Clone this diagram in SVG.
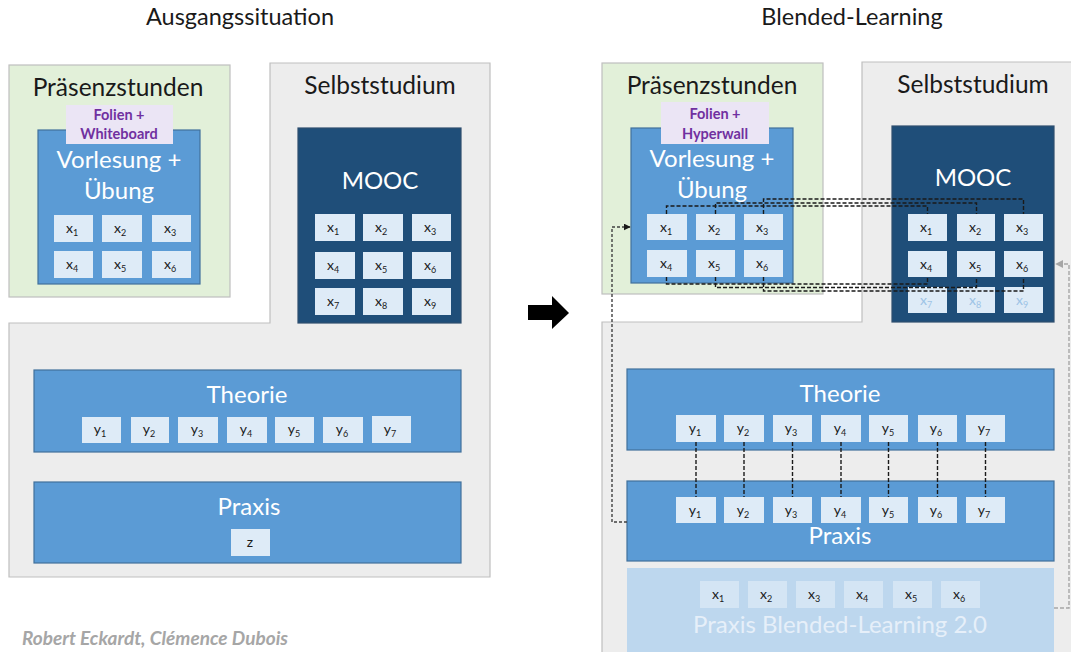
<svg xmlns="http://www.w3.org/2000/svg" width="1071" height="652" viewBox="0 0 1071 652">
<defs>
<style>
text{font-family:Lato,"Noto Sans","Liberation Sans",sans-serif}
.title{font-size:23.5px;fill:#1a1a1a;text-anchor:middle}
.head{font-size:24.5px;fill:#1a1a1a;text-anchor:middle}
.green{fill:#e2f0d9;stroke:#bfbfbf;stroke-width:1.2}
.gray{fill:#ededed;stroke:#bfbfbf;stroke-width:1.2}
.blue{fill:#5b9bd5;stroke:#41719c;stroke-width:1.2}
.dark{fill:#1f4e79;stroke:#2f4f6f;stroke-width:1.2}
.wt{font-size:24px;fill:#ffffff;text-anchor:middle}
.lav{fill:#ebe5f5}
.pt{font-size:14.5px;font-weight:bold;fill:#7030a0;text-anchor:middle}
.xb{fill:#deebf7}
.xt{font-size:14px;fill:#1a1a1a;text-anchor:middle}
.xtf{font-size:14px;fill:#9dc3e6;text-anchor:middle}
.pbl{fill:#bdd7ee}
.dash{fill:none;stroke:#1a1a1a;stroke-width:1.4;stroke-dasharray:4 2}
.dash2{fill:none;stroke:#404040;stroke-width:1.4;stroke-dasharray:3 2}
.dashg{fill:none;stroke:#a6a6a6;stroke-width:1.4;stroke-dasharray:4 2}
</style>
<marker id="ah" viewBox="0 0 10 10" refX="9" refY="5" markerWidth="7" markerHeight="7" orient="auto" markerUnits="userSpaceOnUse"><path d="M0,0 L10,5 L0,10 z" fill="#1a1a1a"/></marker>
<marker id="ahg" viewBox="0 0 10 10" refX="9" refY="5" markerWidth="8" markerHeight="8" orient="auto" markerUnits="userSpaceOnUse"><path d="M0,0 L10,5 L0,10 z" fill="#a6a6a6"/></marker>
</defs>
<rect width="1071" height="652" fill="#ffffff"/>

<!-- Titles -->
<text class="title" x="240" y="25">Ausgangssituation</text>
<text class="title" x="852" y="25">Blended-Learning</text>

<!-- ===== LEFT ===== -->
<g id="left-selbststudium">
<polygon class="gray" points="270,63 490,63 490,577 9,577 9,323 270,323"/>
<text class="head" x="380" y="94">Selbststudium</text>
</g>
<g id="left-praesenz">
<rect class="green" x="9" y="65" width="221" height="232"/>
<text class="head" x="118" y="96">Präsenzstunden</text>
</g>
<g id="left-vorlesung">
<rect class="blue" x="38" y="130" width="162" height="154"/>
<text class="wt" x="119" y="168">Vorlesung +</text>
<text class="wt" x="119" y="199">Übung</text>
<rect class="xb" x="54" y="215" width="39" height="27"/><text class="xt" x="72" y="233">x<tspan font-size="9" dy="3">1</tspan></text>
<rect class="xb" x="102" y="215" width="40" height="27"/><text class="xt" x="120" y="233">x<tspan font-size="9" dy="3">2</tspan></text>
<rect class="xb" x="152" y="215" width="39" height="27"/><text class="xt" x="170" y="233">x<tspan font-size="9" dy="3">3</tspan></text>
<rect class="xb" x="54" y="251" width="39" height="27"/><text class="xt" x="72" y="269">x<tspan font-size="9" dy="3">4</tspan></text>
<rect class="xb" x="102" y="251" width="40" height="27"/><text class="xt" x="120" y="269">x<tspan font-size="9" dy="3">5</tspan></text>
<rect class="xb" x="152" y="251" width="39" height="27"/><text class="xt" x="170" y="269">x<tspan font-size="9" dy="3">6</tspan></text>
</g>
<g id="left-folien">
<rect class="lav" x="66" y="105" width="107" height="39"/>
<text class="pt" x="119" y="120">Folien +</text>
<text class="pt" x="119" y="139">Whiteboard</text>
</g>
<g id="left-mooc">
<rect class="dark" x="298" y="128" width="163" height="195"/>
<text class="wt" x="380" y="189">MOOC</text>
<rect class="xb" x="315" y="214" width="40" height="27"/><text class="xt" x="333" y="232">x<tspan font-size="9" dy="3">1</tspan></text>
<rect class="xb" x="363" y="214" width="40" height="27"/><text class="xt" x="381" y="232">x<tspan font-size="9" dy="3">2</tspan></text>
<rect class="xb" x="412" y="214" width="39" height="27"/><text class="xt" x="430" y="232">x<tspan font-size="9" dy="3">3</tspan></text>
<rect class="xb" x="315" y="252" width="40" height="27"/><text class="xt" x="333" y="270">x<tspan font-size="9" dy="3">4</tspan></text>
<rect class="xb" x="363" y="252" width="40" height="27"/><text class="xt" x="381" y="270">x<tspan font-size="9" dy="3">5</tspan></text>
<rect class="xb" x="412" y="252" width="39" height="27"/><text class="xt" x="430" y="270">x<tspan font-size="9" dy="3">6</tspan></text>
<rect class="xb" x="315" y="288" width="40" height="27"/><text class="xt" x="333" y="306">x<tspan font-size="9" dy="3">7</tspan></text>
<rect class="xb" x="363" y="288" width="40" height="27"/><text class="xt" x="381" y="306">x<tspan font-size="9" dy="3">8</tspan></text>
<rect class="xb" x="412" y="288" width="39" height="27"/><text class="xt" x="430" y="306">x<tspan font-size="9" dy="3">9</tspan></text>
</g>
<g id="left-theorie">
<rect class="blue" x="34" y="370" width="427" height="82"/>
<text class="wt" x="247" y="403" font-size="22">Theorie</text>
<rect class="xb" x="82" y="417" width="39" height="26"/><text class="xt" x="100" y="434">y<tspan font-size="9" dy="3">1</tspan></text>
<rect class="xb" x="131" y="417" width="38" height="26"/><text class="xt" x="149" y="434">y<tspan font-size="9" dy="3">2</tspan></text>
<rect class="xb" x="178" y="417" width="40" height="26"/><text class="xt" x="197" y="434">y<tspan font-size="9" dy="3">3</tspan></text>
<rect class="xb" x="227" y="417" width="40" height="26"/><text class="xt" x="246" y="434">y<tspan font-size="9" dy="3">4</tspan></text>
<rect class="xb" x="275" y="417" width="39" height="26"/><text class="xt" x="294" y="434">y<tspan font-size="9" dy="3">5</tspan></text>
<rect class="xb" x="323" y="417" width="40" height="26"/><text class="xt" x="342" y="434">y<tspan font-size="9" dy="3">6</tspan></text>
<rect class="xb" x="372" y="416" width="39" height="27"/><text class="xt" x="390" y="434">y<tspan font-size="9" dy="3">7</tspan></text>
</g>
<g id="left-praxis">
<rect class="blue" x="34" y="482" width="427" height="81"/>
<text class="wt" x="249" y="515" font-size="22">Praxis</text>
<rect class="xb" x="231" y="529" width="39" height="27"/><text class="xt" x="250" y="547">z</text>
</g>

<text x="22" y="645" font-size="19" font-style="italic" font-weight="bold" fill="#a6a6a6">Robert Eckardt, Clémence Dubois</text>

<!-- Arrow -->
<g id="transition-arrow">
<polygon points="528,305 552,305 552,296 569,313 552,329 552,320 528,320" fill="#000000"/>
</g>

<!-- ===== RIGHT ===== -->
<g id="right-selbststudium">
<polygon class="gray" points="862,62 1080,62 1080,660 602,660 602,322 862,322"/>
<text class="head" x="973" y="93">Selbststudium</text>
</g>
<g id="right-praesenz">
<rect class="green" x="602" y="63" width="221" height="231"/>
<text class="head" x="712" y="94">Präsenzstunden</text>
</g>
<g id="right-vorlesung">
<rect class="blue" x="631" y="128" width="162" height="155"/>
<text class="wt" x="712" y="167">Vorlesung +</text>
<text class="wt" x="712" y="198">Übung</text>
<rect class="xb" x="647" y="214" width="40" height="26"/><text class="xt" x="666" y="232">x<tspan font-size="9" dy="3">1</tspan></text>
<rect class="xb" x="696" y="214" width="39" height="26"/><text class="xt" x="714" y="232">x<tspan font-size="9" dy="3">2</tspan></text>
<rect class="xb" x="744" y="214" width="39" height="26"/><text class="xt" x="762" y="232">x<tspan font-size="9" dy="3">3</tspan></text>
<rect class="xb" x="647" y="250" width="40" height="27"/><text class="xt" x="666" y="268">x<tspan font-size="9" dy="3">4</tspan></text>
<rect class="xb" x="696" y="250" width="39" height="27"/><text class="xt" x="714" y="268">x<tspan font-size="9" dy="3">5</tspan></text>
<rect class="xb" x="744" y="250" width="39" height="27"/><text class="xt" x="762" y="268">x<tspan font-size="9" dy="3">6</tspan></text>
</g>
<g id="right-folien">
<rect class="lav" x="661" y="102" width="108" height="42"/>
<text class="pt" x="715" y="119">Folien +</text>
<text class="pt" x="715" y="139">Hyperwall</text>
</g>
<g id="right-mooc">
<rect class="dark" x="892" y="126" width="162" height="196"/>
<text class="wt" x="973" y="186">MOOC</text>
<rect class="xb" x="908" y="214" width="39" height="27"/><text class="xt" x="926" y="232">x<tspan font-size="9" dy="3">1</tspan></text>
<rect class="xb" x="957" y="214" width="38" height="27"/><text class="xt" x="975" y="232">x<tspan font-size="9" dy="3">2</tspan></text>
<rect class="xb" x="1004" y="214" width="39" height="27"/><text class="xt" x="1022" y="232">x<tspan font-size="9" dy="3">3</tspan></text>
<rect class="xb" x="908" y="251" width="39" height="26"/><text class="xt" x="926" y="269">x<tspan font-size="9" dy="3">4</tspan></text>
<rect class="xb" x="957" y="251" width="38" height="26"/><text class="xt" x="975" y="269">x<tspan font-size="9" dy="3">5</tspan></text>
<rect class="xb" x="1004" y="251" width="39" height="26"/><text class="xt" x="1022" y="269">x<tspan font-size="9" dy="3">6</tspan></text>
<rect class="xb" x="908" y="287" width="39" height="26"/><text class="xtf" x="926" y="305">x<tspan font-size="9" dy="3">7</tspan></text>
<rect class="xb" x="957" y="287" width="38" height="26"/><text class="xtf" x="975" y="305">x<tspan font-size="9" dy="3">8</tspan></text>
<rect class="xb" x="1004" y="287" width="39" height="26"/><text class="xtf" x="1022" y="305">x<tspan font-size="9" dy="3">9</tspan></text>
</g>
<g id="right-theorie">
<rect class="blue" x="627" y="369" width="427" height="81"/>
<text class="wt" x="840" y="402" font-size="22">Theorie</text>
<rect class="xb" x="676" y="415" width="40" height="27"/><text class="xt" x="695" y="433">y<tspan font-size="9" dy="3">1</tspan></text>
<rect class="xb" x="724" y="415" width="40" height="27"/><text class="xt" x="743" y="433">y<tspan font-size="9" dy="3">2</tspan></text>
<rect class="xb" x="773" y="415" width="39" height="27"/><text class="xt" x="791" y="433">y<tspan font-size="9" dy="3">3</tspan></text>
<rect class="xb" x="821" y="415" width="40" height="27"/><text class="xt" x="840" y="433">y<tspan font-size="9" dy="3">4</tspan></text>
<rect class="xb" x="869" y="415" width="39" height="27"/><text class="xt" x="888" y="433">y<tspan font-size="9" dy="3">5</tspan></text>
<rect class="xb" x="918" y="415" width="39" height="27"/><text class="xt" x="936" y="433">y<tspan font-size="9" dy="3">6</tspan></text>
<rect class="xb" x="966" y="415" width="39" height="27"/><text class="xt" x="984" y="433">y<tspan font-size="9" dy="3">7</tspan></text>
</g>
<g id="right-praxis">
<rect class="blue" x="627" y="481" width="427" height="80"/>
<text class="wt" x="840" y="544" font-size="22">Praxis</text>
<rect class="xb" x="676" y="497" width="40" height="26"/><text class="xt" x="695" y="515">y<tspan font-size="9" dy="3">1</tspan></text>
<rect class="xb" x="724" y="497" width="40" height="26"/><text class="xt" x="743" y="515">y<tspan font-size="9" dy="3">2</tspan></text>
<rect class="xb" x="773" y="497" width="39" height="26"/><text class="xt" x="791" y="515">y<tspan font-size="9" dy="3">3</tspan></text>
<rect class="xb" x="821" y="497" width="40" height="26"/><text class="xt" x="840" y="515">y<tspan font-size="9" dy="3">4</tspan></text>
<rect class="xb" x="869" y="497" width="39" height="26"/><text class="xt" x="888" y="515">y<tspan font-size="9" dy="3">5</tspan></text>
<rect class="xb" x="918" y="497" width="39" height="26"/><text class="xt" x="936" y="515">y<tspan font-size="9" dy="3">6</tspan></text>
<rect class="xb" x="966" y="497" width="39" height="26"/><text class="xt" x="984" y="515">y<tspan font-size="9" dy="3">7</tspan></text>
</g>
<g id="right-praxis-bl">
<rect class="pbl" x="627" y="568" width="427" height="90"/>
<rect class="xb" x="700" y="581" width="39" height="27" opacity="0.7"/><text class="xt" x="718" y="599">x<tspan font-size="9" dy="3">1</tspan></text>
<rect class="xb" x="748" y="581" width="39" height="27" opacity="0.7"/><text class="xt" x="766" y="599">x<tspan font-size="9" dy="3">2</tspan></text>
<rect class="xb" x="796" y="581" width="39" height="27" opacity="0.7"/><text class="xt" x="814" y="599">x<tspan font-size="9" dy="3">3</tspan></text>
<rect class="xb" x="844" y="581" width="39" height="27" opacity="0.7"/><text class="xt" x="862" y="599">x<tspan font-size="9" dy="3">4</tspan></text>
<rect class="xb" x="893" y="581" width="39" height="27" opacity="0.7"/><text class="xt" x="911" y="599">x<tspan font-size="9" dy="3">5</tspan></text>
<rect class="xb" x="941" y="581" width="39" height="27" opacity="0.7"/><text class="xt" x="959" y="599">x<tspan font-size="9" dy="3">6</tspan></text>
<text class="wt" x="840" y="633" font-size="23" style="fill:#e6eff9">Praxis Blended-Learning 2.0</text>
</g>

<g id="connectors">
<path class="dash" d="M666.5 214 V206 H927.5 V214"/>
<path class="dash" d="M715.5 214 V203 H976.5 V214"/>
<path class="dash" d="M763.5 214 V199 H1023.5 V214"/>
<path class="dash" d="M666.5 277 V284 H927.5 V277"/>
<path class="dash" d="M715.5 277 V287.5 H976.5 V277"/>
<path class="dash" d="M763.5 277 V291 H1023.5 V277"/>
<path class="dash2" d="M627 522 H612 V227 H630" marker-end="url(#ah)"/>
<path class="dash" d="M696 442 V497"/>
<path class="dash" d="M744 442 V497"/>
<path class="dash" d="M792.5 442 V497"/>
<path class="dash" d="M841 442 V497"/>
<path class="dash" d="M888.5 442 V497"/>
<path class="dash" d="M937.5 442 V497"/>
<path class="dash" d="M985.5 442 V497"/>
<path class="dashg" d="M1054 608 H1069 V264 H1056" marker-end="url(#ahg)"/>
</g>
</svg>
